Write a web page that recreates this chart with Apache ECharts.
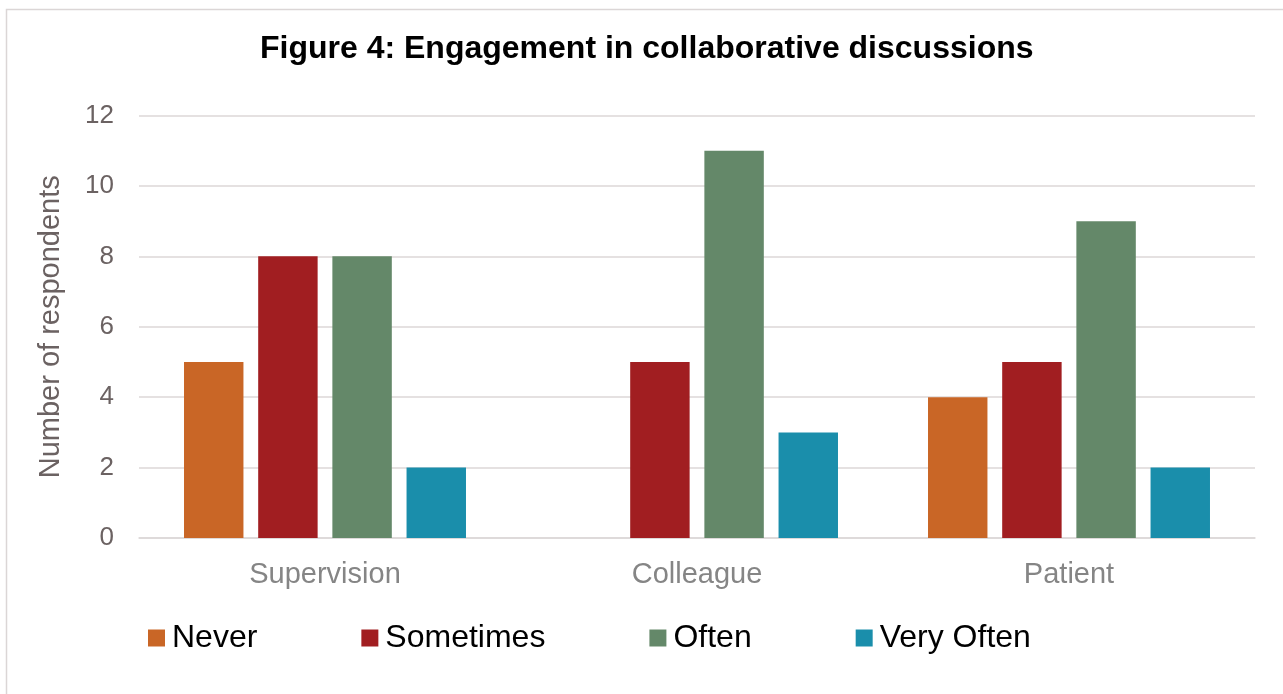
<!DOCTYPE html>
<html>
<head>
<meta charset="utf-8">
<script src="https://cdn.jsdelivr.net/npm/echarts@6/dist/echarts.min.js"></script>
<style>
  html, body { margin: 0; padding: 0; background: #ffffff; }
  #chart { width: 1283px; height: 694px; }
</style>
</head>
<body>
<div id="chart"></div>
<script>
// Survey responses: how often respondents engage in collaborative discussions
const categories = ['Supervision', 'Colleague', 'Patient'];
const never = [5, 0, 4];
const sometimes = [8, 5, 5];
const often = [8, 11, 9];
const veryOften = [2, 3, 2];
const seriesNames = ['Never', 'Sometimes', 'Often', 'Very Often'];
const yTicks = [0, 2, 4, 6, 8, 10, 12];

const colors = ['#C96626', '#A11E21', '#648869', '#1A8EAB'];
const font = '"Liberation Sans", Arial, Helvetica, sans-serif';
const seriesData = [never, sometimes, often, veryOften];

const chart = echarts.init(document.getElementById('chart'), null, { renderer: 'canvas' });

chart.setOption({
  backgroundColor: '#ffffff',
  animation: false,
  color: colors,
  title: {
    text: 'Figure 4: Engagement in collaborative discussions',
    left: 260,
    top: 33,
    padding: 0,
    textStyle: { fontFamily: font, fontSize: 32, fontWeight: 'bold', color: '#000000' }
  },
  graphic: [{
    type: 'rect',
    shape: { x: 6.5, y: 9.5, width: 1300, height: 720 },
    style: { fill: 'none', stroke: '#dbd6d6', lineWidth: 1.5 },
    silent: true
  }],
  legend: {
    data: seriesNames,
    left: 148,
    top: 622,
    padding: 0,
    itemWidth: 17,
    itemHeight: 17,
    itemGap: 104,
    icon: 'rect',
    textStyle: { fontFamily: font, fontSize: 32, color: '#000000', padding: [0, 0, 0, 2] }
  },
  grid: { left: 139, right: 28, top: 115.5, bottom: 156, containLabel: false },
  xAxis: {
    type: 'category',
    data: categories,
    axisLine: { show: true, lineStyle: { color: '#dcd7d7', width: 1.5 } },
    axisTick: { show: false },
    axisLabel: { fontFamily: font, fontSize: 29, color: '#858585', margin: 22 }
  },
  yAxis: {
    type: 'value',
    min: yTicks[0],
    max: yTicks[yTicks.length - 1],
    interval: 2,
    name: 'Number of respondents',
    nameLocation: 'middle',
    nameRotate: 90,
    nameGap: 74,
    nameTextStyle: { fontFamily: font, fontSize: 29, color: '#6b6262' },
    axisLine: { show: false },
    axisTick: { show: false },
    axisLabel: { fontFamily: font, fontSize: 26, color: '#6b6262', margin: 25 },
    splitLine: { lineStyle: { color: '#dcd7d7', width: 1.5 } }
  },
  series: seriesNames.map((name, i) => ({
    name: name,
    type: 'bar',
    data: seriesData[i],
    barGap: '24.8%',
    barCategoryGap: '24.2%',
    itemStyle: { color: colors[i] }
  }))
});
</script>
</body>
</html>
